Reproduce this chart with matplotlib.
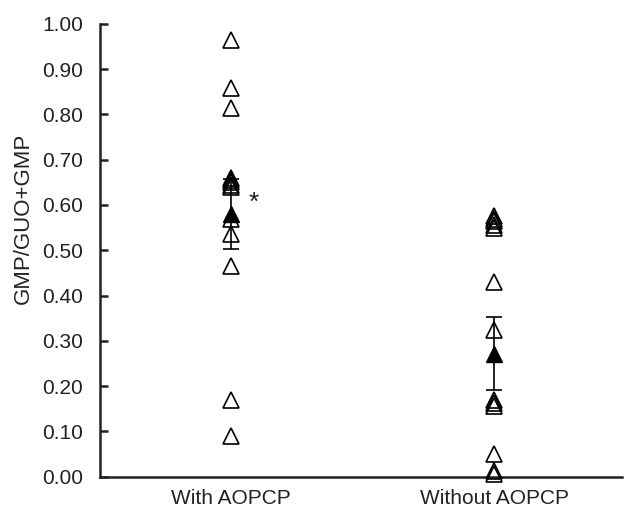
import matplotlib
matplotlib.use("Agg")
import matplotlib.pyplot as plt

categories = ["With AOPCP", "Without AOPCP"]
with_aopcp = [0.965, 0.858, 0.815, 0.66, 0.655, 0.65, 0.645, 0.64, 0.57, 0.535, 0.465, 0.17, 0.09]
without_aopcp = [0.575, 0.57, 0.565, 0.555, 0.55, 0.43, 0.324, 0.17, 0.162, 0.155, 0.05, 0.012, 0.005]
means = [0.58, 0.272]
sems = [0.077, 0.08]
yticks = [0.0, 0.1, 0.2, 0.3, 0.4, 0.5, 0.6, 0.7, 0.8, 0.9, 1.0]

plt.rcParams['font.family'] = ['Liberation Sans', 'DejaVu Sans']

fig = plt.figure(figsize=(6.24, 5.14), dpi=100)
ax = fig.add_axes([0.160, 0.0726, 0.837, 0.881])

groups = [with_aopcp, without_aopcp]
for i, vals in enumerate(groups):
    xpos = [i + 1] * len(vals)
    ax.plot(xpos, vals, linestyle='none', marker='^', markersize=12,
            markerfacecolor='none', markeredgecolor='black', markeredgewidth=1.2,
            clip_on=False, zorder=3)

ax.errorbar([1, 2], means, yerr=sems, fmt='^', color='black', markersize=12,
            markerfacecolor='black', markeredgecolor='black', ecolor='black',
            elinewidth=1.2, capsize=5.5, capthick=1.2, clip_on=False, zorder=4)

ax.text(1.085, 0.605, '*', fontsize=19, ha='center', va='center', color='#222222')

ax.set_xlim(0.502, 2.486)
ax.set_ylim(0, 1.0)
ax.set_xticks([1, 2])
ax.set_xticklabels(categories, fontsize=15)
ax.set_yticks(yticks)
ax.set_yticklabels([f"{v:.2f}" for v in yticks], fontsize=15)
ax.tick_params(axis='y', direction='in', length=6, width=1.8, pad=12, colors='#222222')
ax.tick_params(axis='x', length=0, pad=9, colors='#222222')
ax.set_ylabel('GMP/GUO+GMP', fontsize=16, color='#222222')
ax.yaxis.set_label_coords(-0.127, 0.57)

for s in ['top', 'right']:
    ax.spines[s].set_visible(False)
for s in ['left', 'bottom']:
    ax.spines[s].set_linewidth(1.8)
    ax.spines[s].set_color('#222222')

fig.savefig('out.png', dpi=100)
